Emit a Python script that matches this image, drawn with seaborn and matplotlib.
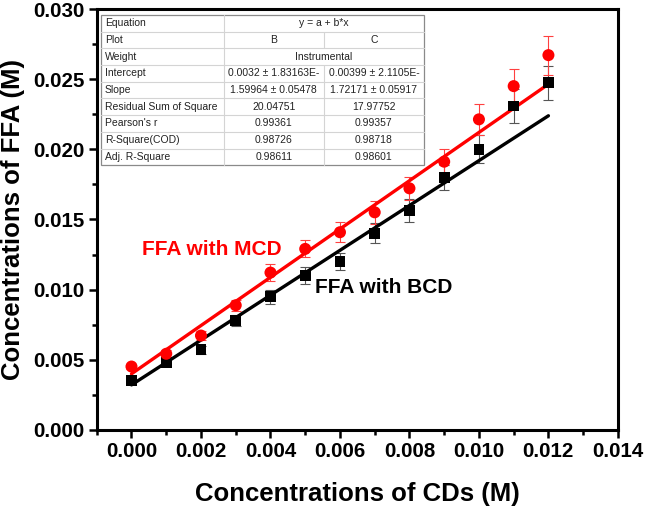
import numpy as np
import pandas as pd
import matplotlib
matplotlib.use("Agg")
import matplotlib.pyplot as plt
import seaborn as sns
from matplotlib.patches import Rectangle
from matplotlib.ticker import MultipleLocator, FormatStrFormatter

# ==========================================================
# Data
# ==========================================================

cd_conc = [0.000, 0.001, 0.002, 0.003, 0.004, 0.005, 0.006,
           0.007, 0.008, 0.009, 0.010, 0.011, 0.012]

ffa_mcd = [0.00451, 0.00542, 0.00672, 0.00888, 0.01121, 0.01290, 0.01409,
           0.01551, 0.01722, 0.01912, 0.02214, 0.02451, 0.02672]
ffa_mcd_err = [0.0002, 0.0003, 0.0003, 0.0004, 0.0006, 0.0006, 0.0007,
               0.0008, 0.0008, 0.0009, 0.0011, 0.0012, 0.0014]

ffa_bcd = [0.00351, 0.00480, 0.00570, 0.00779, 0.00950, 0.01100, 0.01200,
           0.01402, 0.01563, 0.01798, 0.02000, 0.02309, 0.02475]
ffa_bcd_err = [0.0002, 0.0002, 0.0003, 0.0004, 0.0005, 0.0006, 0.0006,
               0.0007, 0.0008, 0.0009, 0.0010, 0.0012, 0.0012]

# linear fits y = a + b*x (from the table)
fit_intercept = {"BCD": 0.0032, "MCD": 0.00399}
fit_slope = {"BCD": 1.59964, "MCD": 1.72171}

# fit table
row_names = ["Equation", "Plot", "Weight", "Intercept", "Slope",
             "Residual Sum of Square", "Pearson's r", "R-Square(COD)",
             "Adj. R-Square"]
col_b = ["y = a + b*x", "B", "Instrumental", "0.0032 \u00b1 1.83163E-",
         "1.59964 \u00b1 0.05478", "20.04751", "0.99361", "0.98726", "0.98611"]
col_c = [None, "C", None, "0.00399 \u00b1 2.1105E-",
         "1.72171 \u00b1 0.05917", "17.97752", "0.99357", "0.98718", "0.98601"]

# ==========================================================
# Style
# ==========================================================

sns.set_theme(style="ticks")
plt.rcParams["font.family"] = ["Liberation Sans", "DejaVu Sans"]
plt.rcParams["font.weight"] = "bold"

fig = plt.figure(figsize=(6.45, 5.08), dpi=100)
ax = fig.add_axes([0.150, 0.154, 0.808, 0.828])

# ==========================================================
# Points, error bars, fit lines
# ==========================================================

df = pd.DataFrame({
    "x": cd_conc * 2,
    "y": ffa_bcd + ffa_mcd,
    "err": ffa_bcd_err + ffa_mcd_err,
    "series": ["BCD"] * len(cd_conc) + ["MCD"] * len(cd_conc),
})

colors = {"BCD": "black", "MCD": "red"}
err_colors = {"BCD": "#555555", "MCD": "#ff4040"}
markers = {"BCD": "s", "MCD": "o"}
sizes = {"BCD": 60, "MCD": 75}

for name in ["BCD", "MCD"]:
    sub = df[df["series"] == name]
    ax.errorbar(sub["x"], sub["y"], yerr=sub["err"], fmt="none",
                ecolor=err_colors[name], elinewidth=0.8, capsize=3.5,
                capthick=0.8, zorder=2)

    xfit = np.array([min(cd_conc), max(cd_conc)])
    fit_df = pd.DataFrame({"x": xfit,
                           "y": fit_intercept[name] + fit_slope[name] * xfit})
    sns.lineplot(data=fit_df, x="x", y="y", color=colors[name],
                 linewidth=2.4, ax=ax, zorder=3)

    sns.scatterplot(data=sub, x="x", y="y", color=colors[name],
                    marker=markers[name], s=sizes[name], edgecolor="none",
                    ax=ax, zorder=4)

ax.text(0.0003, 0.01283, "FFA with MCD", color="red", fontsize=15,
        fontweight="bold", va="center", ha="left")
ax.text(0.00528, 0.01012, "FFA with BCD", color="black", fontsize=15,
        fontweight="bold", va="center", ha="left")

# ==========================================================
# Axes
# ==========================================================

ax.set_xlim(-0.001, 0.014)
ax.set_ylim(0.0, 0.030)

ax.xaxis.set_major_locator(MultipleLocator(0.002))
ax.xaxis.set_minor_locator(MultipleLocator(0.001))
ax.yaxis.set_major_locator(MultipleLocator(0.005))
ax.yaxis.set_minor_locator(MultipleLocator(0.0025))
ax.xaxis.set_major_formatter(FormatStrFormatter("%.3f"))
ax.yaxis.set_major_formatter(FormatStrFormatter("%.3f"))

ax.tick_params(which="major", direction="out", length=6, width=1.8,
               labelsize=14.8, pad=3, color="black", labelcolor="black")
ax.tick_params(which="minor", direction="out", length=3.5, width=1.8,
               color="black")
for lab in ax.get_xticklabels() + ax.get_yticklabels():
    lab.set_fontweight("bold")

for side in ["left", "right", "top", "bottom"]:
    ax.spines[side].set_linewidth(2.2)
    ax.spines[side].set_color("black")

ax.set_xlabel("Concentrations of CDs (M)", fontsize=18.5, fontweight="bold",
              labelpad=15, color="black")
ax.set_ylabel("Concentrations of FFA (M)", fontsize=18.5, fontweight="bold",
              labelpad=6, color="black")

if ax.get_legend() is not None:
    ax.get_legend().remove()

# ==========================================================
# Fit table (axes coordinates)
# ==========================================================

tx0, tx1 = 0.0077, 0.628
ty_top, ty_bot = 0.986, 0.629
col_x = [tx0, 0.2438, 0.4357, tx1]
n_rows = len(row_names)
rh = (ty_top - ty_bot) / n_rows
grid_col = "#d4d4d4"
tfont = dict(fontsize=7.5, fontweight="normal", color="#222222",
             va="center", transform=ax.transAxes, zorder=11)

ax.add_patch(Rectangle((tx0, ty_bot), tx1 - tx0, ty_top - ty_bot,
                       transform=ax.transAxes, facecolor="white",
                       edgecolor="#8a8a8a", linewidth=0.9, zorder=10))

for i in range(n_rows):
    y_hi = ty_top - i * rh
    y_lo = y_hi - rh
    y_mid = (y_hi + y_lo) / 2
    if i > 0:
        ax.plot([tx0, tx1], [y_hi, y_hi], color=grid_col, linewidth=0.8,
                transform=ax.transAxes, zorder=10.5)
    # first column divider
    ax.plot([col_x[1], col_x[1]], [y_lo, y_hi], color=grid_col,
            linewidth=0.8, transform=ax.transAxes, zorder=10.5)
    ax.text(tx0 + 0.008, y_mid, row_names[i], ha="left", **tfont)
    if col_c[i] is None:
        ax.text((col_x[1] + col_x[3]) / 2, y_mid, col_b[i], ha="center",
                **tfont)
    else:
        ax.plot([col_x[2], col_x[2]], [y_lo, y_hi], color=grid_col,
                linewidth=0.8, transform=ax.transAxes, zorder=10.5)
        ax.text((col_x[1] + col_x[2]) / 2, y_mid, col_b[i], ha="center",
                **tfont)
        ax.text((col_x[2] + col_x[3]) / 2, y_mid, col_c[i], ha="center",
                **tfont)

fig.savefig("out.png", dpi=100)
